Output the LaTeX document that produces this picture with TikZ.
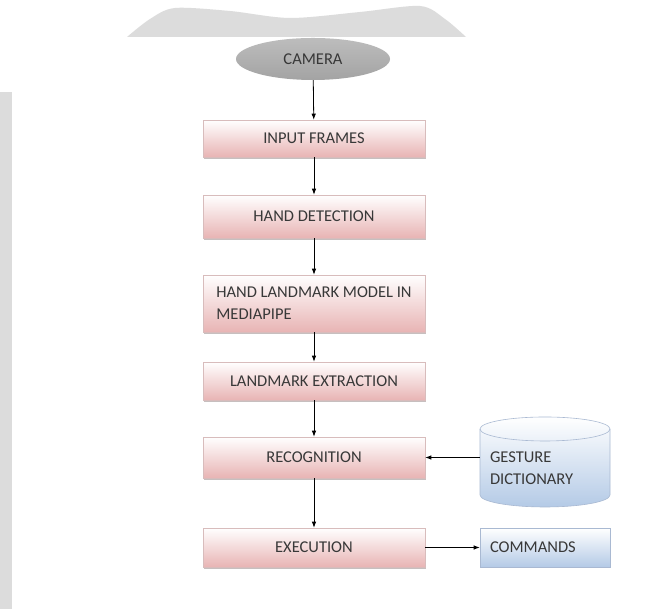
\documentclass[tikz,border=0pt]{standalone}
\usepackage{fontspec}
\setmainfont{Carlito}
\usetikzlibrary{shadows,arrows.meta,shapes.geometric}
\definecolor{txt}{HTML}{383838}
\definecolor{pinkbot}{HTML}{E8B4B4}
\definecolor{pinkline}{HTML}{D8BCBC}
\definecolor{bluebot}{HTML}{B4CAE6}
\definecolor{blueline}{HTML}{A9B9D2}
\definecolor{wmgray}{HTML}{DCDCDC}
\definecolor{shadowc}{HTML}{B0A4A4}
\begin{document}
\begin{tikzpicture}[x=1pt,y=1pt,
  lab/.style={font=\fontsize{16.5}{22}\selectfont, text=txt},
  pbox/.style={lab, rectangle, draw=pinkline, line width=0.6pt,
    top color=white, bottom color=pinkbot, minimum width=222pt,
    drop shadow={shadow xshift=0.8pt, shadow yshift=-2pt, fill=shadowc, opacity=0.7}},
  bbox/.style={lab, rectangle, draw=blueline, line width=0.6pt,
    top color=white, bottom color=bluebot, minimum width=130pt,
    text width=110pt, align=left},
  arr/.style={draw=black, line width=0.8pt, -{Latex[length=6pt,width=4.5pt]}}]
\useasboundingbox (0,0) rectangle (646,609);
\fill[white] (0,0) rectangle (646,609);
% scan artefacts
\fill[wmgray] plot[smooth] coordinates {(127,572) (150,590) (175,601) (230,598) (290,591) (360,597) (420,603) (445,590) (466,572)} -- cycle;
\fill[wmgray] (0,0) rectangle (12,517);
% camera
\node[lab, ellipse, minimum width=154pt, minimum height=42pt, draw=none,
  top color=black!26, middle color=black!9, bottom color=black!36] (cam) at (313,550) {CAMERA};
% process boxes
\node[pbox, minimum height=37pt] (inp) at (314,470.5) {INPUT FRAMES};
\node[pbox, minimum height=43pt] (hd) at (314,392.5) {HAND DETECTION};
\node[pbox, minimum height=57pt, align=left] (hlm) at (314,305.5) {HAND LANDMARK MODEL IN\\MEDIAPIPE};
\node[pbox, minimum height=38pt] (le) at (314,228) {LANDMARK EXTRACTION};
\node[pbox, minimum height=41pt] (rec) at (314,151.5) {RECOGNITION};
\node[pbox, minimum height=39pt] (exe) at (314,61.5) {EXECUTION};
% gesture dictionary cylinder
\path[top color=white, bottom color=bluebot, draw=blueline, line width=0.6pt]
  (480,180) -- (480,114) arc[start angle=180, end angle=360, x radius=65, y radius=12]
  -- (610,180) arc[start angle=0, end angle=180, x radius=65, y radius=12] -- cycle;
\draw[blueline, line width=0.6pt] (480,180) arc[start angle=180, end angle=360, x radius=65, y radius=12];
\node[lab, rectangle, minimum width=130pt, text width=110pt, align=left] (gd) at (545,141) {GESTURE\\DICTIONARY};
% commands
\node[bbox, minimum height=39pt] (cmd) at (545,61.5) {COMMANDS};
% connectors
\draw[arr] (cam) -- (inp);
\draw[arr] (inp) -- (hd);
\draw[arr] (hd) -- (hlm);
\draw[arr] (hlm) -- (le);
\draw[arr] (le) -- (rec);
\draw[arr] (rec) -- (exe);
\draw[arr] (gd.west |- rec.east) -- (rec.east);
\draw[arr] (exe.east) -- (cmd.west);
\end{tikzpicture}
\end{document}
